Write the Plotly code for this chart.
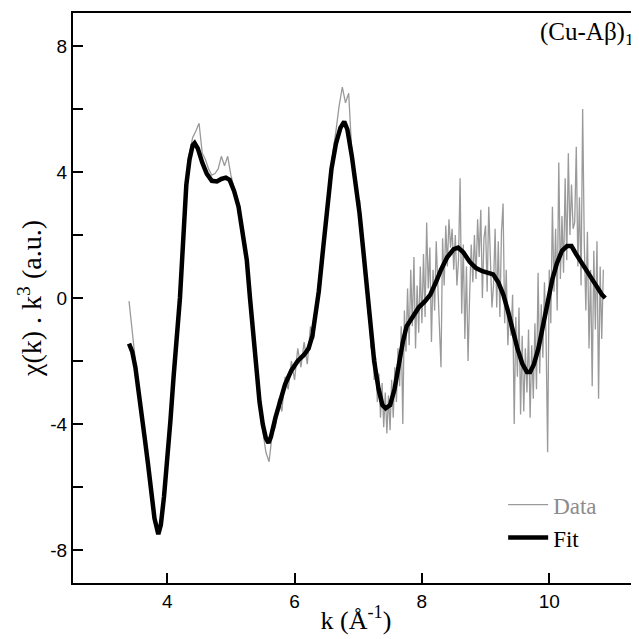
import plotly.graph_objects as go

# ---- Fit curve (thick black) ----
fit_k = [3.40, 3.45, 3.50, 3.55, 3.60, 3.65, 3.70, 3.75, 3.80, 3.86, 3.90, 3.95, 4.00, 4.05,
         4.10, 4.15, 4.20, 4.25, 4.30, 4.35, 4.40, 4.43, 4.48, 4.55, 4.62, 4.70, 4.78, 4.85,
         4.92, 4.98, 5.05, 5.12, 5.18, 5.25, 5.30, 5.35, 5.40, 5.45, 5.50, 5.55, 5.59, 5.63,
         5.70, 5.78, 5.85, 5.95, 6.05, 6.15, 6.22, 6.28, 6.33, 6.38, 6.45, 6.52, 6.58, 6.65,
         6.72, 6.78, 6.83, 6.90, 6.96, 7.02, 7.08, 7.13, 7.18, 7.25, 7.32, 7.38, 7.43, 7.50,
         7.57, 7.63, 7.70, 7.76, 7.85, 7.95, 8.05, 8.13, 8.22, 8.30, 8.40, 8.50, 8.57, 8.65,
         8.75, 8.85, 8.95, 9.05, 9.12, 9.20, 9.28, 9.35, 9.42, 9.50, 9.58, 9.65, 9.70, 9.76,
         9.83, 9.90, 9.97, 10.05, 10.12, 10.20, 10.28, 10.35, 10.42, 10.50, 10.58, 10.66,
         10.75, 10.83, 10.88]
fit_chi = [-1.45, -1.7, -2.2, -2.9, -3.7, -4.5, -5.3, -6.2, -7.0, -7.5, -7.2, -6.3, -5.2, -3.9,
           -2.5, -1.2, 0.0, 1.8, 3.6, 4.4, 4.85, 4.92, 4.75, 4.3, 3.95, 3.72, 3.7, 3.78,
           3.82, 3.75, 3.4, 2.9, 2.2, 1.2, 0.0, -1.2, -2.3, -3.3, -4.0, -4.45, -4.6, -4.4,
           -3.8, -3.2, -2.75, -2.3, -2.0, -1.8, -1.6, -1.2, -0.6, 0.2, 1.6, 3.0, 4.1, 4.9,
           5.4, 5.6, 5.35, 4.5, 3.7, 2.7, 1.5, 0.4, -0.8, -2.0, -2.9, -3.4, -3.5, -3.4,
           -2.9, -2.2, -1.4, -0.9, -0.6, -0.3, -0.1, 0.1, 0.5, 0.9, 1.3, 1.55, 1.6, 1.45,
           1.15, 0.95, 0.85, 0.8, 0.75, 0.5, 0.1, -0.4, -1.0, -1.6, -2.1, -2.35, -2.35, -2.1,
           -1.6, -0.9, -0.1, 0.6, 1.1, 1.5, 1.65, 1.65, 1.4, 1.15, 0.85, 0.6,
           0.35, 0.1, 0.0]

# ---- Measured data (thin grey) ----
data_k = [3.40, 3.45, 3.50, 3.55, 3.60, 3.65, 3.70, 3.75, 3.80, 3.85, 3.90, 3.95, 4.00, 4.05,
          4.10, 4.15, 4.20, 4.25, 4.30, 4.35, 4.40, 4.45, 4.50, 4.55, 4.60, 4.65, 4.70, 4.75,
          4.80, 4.85, 4.90, 4.95, 5.00, 5.05, 5.10, 5.15, 5.20, 5.25, 5.30, 5.35, 5.40, 5.45,
          5.50, 5.55, 5.60, 5.65, 5.70, 5.75, 5.80, 5.85, 5.90, 5.95, 6.00, 6.05, 6.10, 6.15,
          6.20, 6.25, 6.30, 6.35, 6.40, 6.45, 6.50, 6.55, 6.60, 6.65, 6.70, 6.75, 6.80, 6.85,
          6.90, 6.95, 7.00,
          7.025, 7.050, 7.075, 7.100, 7.125, 7.150, 7.175, 7.200, 7.225, 7.250, 7.275, 7.300,
          7.325, 7.350, 7.375, 7.400, 7.425, 7.450, 7.475, 7.500, 7.525, 7.550, 7.575, 7.600,
          7.625, 7.650, 7.675, 7.700, 7.725, 7.750, 7.775, 7.800, 7.825, 7.850, 7.875, 7.900,
          7.925, 7.950, 7.975, 8.000, 8.025, 8.050, 8.075, 8.100, 8.125, 8.150, 8.175, 8.200,
          8.225, 8.250, 8.275, 8.300, 8.325, 8.350, 8.375, 8.400, 8.425, 8.450, 8.475, 8.500,
          8.525, 8.550, 8.575, 8.600, 8.625, 8.650, 8.675, 8.700, 8.725, 8.750, 8.775, 8.800,
          8.825, 8.850, 8.875, 8.900, 8.925, 8.950, 8.975, 9.000, 9.025, 9.050, 9.075, 9.100,
          9.125, 9.150, 9.175, 9.200, 9.225, 9.250, 9.275, 9.300, 9.325, 9.350, 9.375, 9.400,
          9.425, 9.450, 9.475, 9.500, 9.525, 9.550, 9.575, 9.600, 9.625, 9.650, 9.675, 9.700,
          9.725, 9.750, 9.775, 9.800, 9.825, 9.850, 9.875, 9.900, 9.925, 9.950, 9.975, 10.000,
          10.025, 10.050, 10.075, 10.100, 10.125, 10.150, 10.175, 10.200, 10.225, 10.250,
          10.275, 10.300, 10.325, 10.350, 10.375, 10.400, 10.425, 10.450, 10.475, 10.500,
          10.525, 10.550, 10.575, 10.600, 10.625, 10.650, 10.675, 10.700, 10.725, 10.750,
          10.775, 10.800, 10.825, 10.850]
data_chi = [-0.1, -1.1, -2.0, -2.8, -3.6, -4.4, -5.2, -6.1, -6.9, -7.4, -7.0, -6.2, -5.1, -3.8,
            -2.4, -1.1, 0.1, 1.9, 3.7, 4.6, 5.1, 5.3, 5.55, 4.6, 4.4, 4.1, 3.9, 3.95,
            4.1, 4.5, 4.2, 4.5, 3.9, 3.5, 3.0, 2.5, 1.9, 1.1, 0.0, -1.2, -2.4, -3.4,
            -4.2, -4.9, -5.2, -4.3, -4.1, -3.2, -3.6, -2.5, -2.9, -2.0, -2.6, -1.6, -2.2, -1.4,
            -2.1, -0.9, -1.3, 0.0, 0.9, 1.8, 2.9, 3.6, 4.6, 5.3, 6.1, 6.7, 6.2, 6.5,
            4.6, 3.9, 2.9,
            3.1, 1.8, 2.0, 0.7, 0.9, -0.5, -0.3, -1.6, -1.2, -2.6, -1.9, -3.3,
            -2.4, -3.8, -2.7, -4.1, -3.0, -4.3, -3.1, -4.2, -2.6, -3.8, -2.2, -3.3,
            -1.6, -2.8, -0.9, -4.0, -0.4, -1.7, 0.3, -1.5, 0.9, -0.9, 1.3, -1.6,
            0.4, -1.1, 1.0, -0.8, 1.4, -0.6, 2.4, 0.3, 1.6, -1.4, 0.9, -0.4,
            1.8, 0.2, -0.9, -2.2, 1.9, 0.4, 2.3, 1.0, 2.5, 1.6, 2.2, 0.9,
            2.0, 0.4, 1.2, 3.8, -0.5, 1.7, -1.3, 1.0, -2.0, 0.1, 1.7, 0.5,
            2.0, 0.6, 2.5, 1.3, 2.8, 0.0, 1.9, 2.3, 0.2, 2.9, 1.2, -0.3,
            0.4, 2.2, -0.3, 1.8, -0.6, 2.1, 3.0, -0.8, 0.9, -1.5, -0.4, -1.2,
            0.1, -4.0, -0.6, -2.5, -0.3, -3.7, -1.2, -3.6, -1.6, -3.0, -1.0, -3.8,
            -1.5, -3.2, -0.8, -2.9, 0.8, -2.4, -0.2, -1.9, 0.5, -1.2, -4.9, 0.9,
            -0.8, 2.9, 0.2, 2.2, -0.4, 4.3, 0.6, 2.6, 0.8, 3.8,
            1.2, 4.6, 2.0, 3.6, 2.2, 2.4, 4.8, 1.0, 3.2, 0.4,
            6.0, 1.8, -0.4, 2.1, -1.6, 0.9, -2.8, 1.5, -1.0, 1.8,
            -3.2, 1.0, -1.3, 0.9]

x_ticks = [4, 6, 8, 10]
x_tick_labels = ["4", "6", "8", "10"]
y_ticks = [-8, -4, 0, 4, 8]
y_tick_labels = ["-8", "-4", "0", "4", "8"]
y_minor_step = 2

SERIF = "Liberation Serif"
SANS = "Liberation Sans"

fig = go.Figure()
fig.add_trace(go.Scatter(x=data_k, y=data_chi, mode="lines",
                         name="<span style='color:#8c8c8c'>Data</span>",
                         line=dict(color="#9a9a9a", width=1.3)))
fig.add_trace(go.Scatter(x=fit_k, y=fit_chi, mode="lines", name="Fit",
                         line=dict(color="black", width=4.5)))

# page has an 8px body margin, so the figure is sized to fit the 639px window
fig.update_layout(
    width=631, height=631,
    margin=dict(l=65, r=0, t=5, b=56),
    paper_bgcolor="white", plot_bgcolor="white",
    showlegend=True,
    legend=dict(x=0.76, y=0.175, xanchor="left", yanchor="top",
                font=dict(family=SERIF, size=23, color="black"),
                bgcolor="rgba(0,0,0,0)", tracegroupgap=0, itemwidth=40),
    annotations=[dict(text="(Cu-Aβ)<sub>1</sub>", xref="paper", yref="paper",
                      x=0.822, y=0.964, xanchor="left", yanchor="middle",
                      showarrow=False, font=dict(family=SERIF, size=25, color="black"))],
)
fig.update_xaxes(range=[2.52, 11.41], tickvals=x_ticks, ticktext=x_tick_labels,
                 ticks="inside", ticklen=10, tickwidth=1.5, tickcolor="black",
                 showline=True, linecolor="black", linewidth=2, mirror=True,
                 showgrid=False, zeroline=False, automargin=False,
                 tickfont=dict(family=SANS, size=19, color="black"),
                 title=dict(text="k (Å<sup>-1</sup>)", standoff=0,
                            font=dict(family=SERIF, size=26, color="black")))
fig.update_yaxes(range=[-9.05, 9.05], tickvals=y_ticks, ticktext=y_tick_labels,
                 ticks="inside", ticklen=10, tickwidth=1.5, tickcolor="black",
                 minor=dict(tickmode="linear", tick0=0, dtick=y_minor_step, ticks="inside",
                            ticklen=10, tickwidth=1.5, tickcolor="black", showgrid=False),
                 showline=True, linecolor="black", linewidth=2, mirror=False,
                 showgrid=False, zeroline=False, automargin=False,
                 tickfont=dict(family=SANS, size=19, color="black"),
                 title=dict(text="χ(k) . k<sup>3</sup> (a.u.)", standoff=0,
                            font=dict(family=SERIF, size=28, color="black")))

fig.write_html("out.html")
